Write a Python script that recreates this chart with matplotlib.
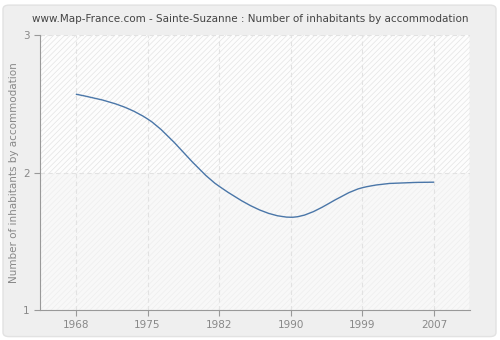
import matplotlib
matplotlib.use("Agg")
import matplotlib.pyplot as plt
from matplotlib.path import Path
from matplotlib.patches import PathPatch, FancyBboxPatch, Rectangle

years = ["1968", "1975", "1982", "1990", "1999", "2007"]
values = [2.57, 2.39, 1.90, 1.675, 1.89, 1.93]

plt.rcParams["hatch.linewidth"] = 0.5

fig = plt.figure(figsize=(5, 3.4), dpi=100)
fig.patch.set_facecolor("white")
fig.patches.append(FancyBboxPatch((0.006, 0.01), 0.986, 0.975, boxstyle="round,pad=0,rounding_size=0.012",
                                  transform=fig.transFigure, facecolor="#efefef", edgecolor="#e2e2e2", lw=1,
                                  zorder=-10))

ax = fig.add_axes([0.08, 0.088, 0.86, 0.809])
ax.set_zorder(1)
ax.set_facecolor("#fbfbfb")
ax.set_xlim(-0.5, 5.5)
ax.set_ylim(1, 3)

# hatched bands
ax.add_patch(Rectangle((-0.5, 2), 6, 1, facecolor="#fdfdfd", edgecolor="#e4e4e4", hatch="//////", lw=0, zorder=0))
ax.add_patch(Rectangle((-0.5, 1), 6, 1, facecolor="#f8f8f8", edgecolor="#eeeeee", hatch="//////", lw=0, zorder=0))
ax.axvline(5.5, color="#dddddd", lw=1, zorder=1)

xs = list(range(len(years)))
# smooth curve through the data points (cubic Hermite, Catmull-Rom tangents)
verts = [(xs[0], values[0])]
codes = [Path.MOVETO]
n = len(xs)
def tangent(i):
    if i == 0:
        return (values[1] - values[0]) * 0.6
    if i == n - 1:
        return (values[-1] - values[-2]) * 0.3
    return (values[i + 1] - values[i - 1]) / 2
for i in range(n - 1):
    t0, t1 = tangent(i), tangent(i + 1)
    verts += [(xs[i] + 1/3, values[i] + t0/3), (xs[i+1] - 1/3, values[i+1] - t1/3), (xs[i+1], values[i+1])]
    codes += [Path.CURVE4] * 3
ax.add_patch(PathPatch(Path(verts, codes), facecolor="none", edgecolor="#4a76a8", lw=1, zorder=3))

ax.set_xticks(xs)
ax.set_xticklabels(years)
ax.set_yticks([1, 2, 3])
ax.grid(True, color="#e2e2e2", ls=(0, (4, 3)), lw=0.8)
ax.set_axisbelow(True)
for s in ["top", "right"]:
    ax.spines[s].set_visible(False)
for s in ["left", "bottom"]:
    ax.spines[s].set_color("#999999")
ax.tick_params(colors="#999999", labelcolor="#888888", labelsize=7.5, length=4, width=0.8)
ax.set_ylabel("Number of inhabitants by accommodation", fontsize=7.5, color="#888888", labelpad=3)
fig.text(0.5, 0.945, "www.Map-France.com - Sainte-Suzanne : Number of inhabitants by accommodation",
         ha="center", va="center", fontsize=7.5, color="#444444")

fig.savefig("out.png", dpi=100)
